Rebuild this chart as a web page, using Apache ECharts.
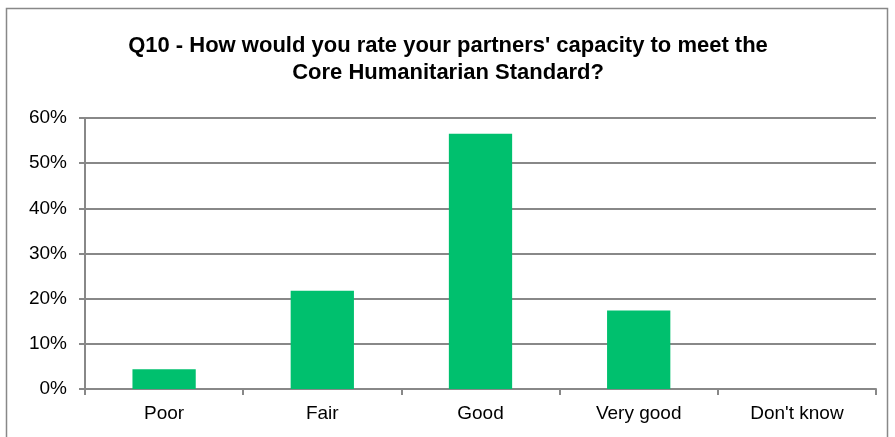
<!DOCTYPE html>
<html><head><meta charset="utf-8">
<script src="https://cdn.jsdelivr.net/npm/echarts@6/dist/echarts.min.js"></script>
<style>html,body{margin:0;padding:0;background:#fff;}#c{width:895px;height:437px;}</style>
</head><body><div id="c"></div>
<script>
const categories = ["Poor", "Fair", "Good", "Very good", "Don't know"];
const values = [4.35, 21.74, 56.52, 17.39, 0];
const titleText = "Q10 - How would you rate your partners' capacity to meet the\nCore Humanitarian Standard?";
const chart = echarts.init(document.getElementById('c'));
chart.setOption({
  animation: false,
  graphic: [
    {type: 'rect', shape: {x: 6.5, y: 8.5, width: 881, height: 440}, style: {fill: 'none', stroke: '#888', lineWidth: 1.5}, silent: true},
    {type: 'text', x: 448, y: 32, style: {text: titleText, align: 'center', verticalAlign: 'top', fontFamily: 'Liberation Sans', fontSize: 22, fontWeight: 'bold', fill: '#000', lineHeight: 27}, silent: true}
  ],
  grid: {left: 85, right: 19, top: 118, bottom: 48, containLabel: false},
  xAxis: {
    type: 'category', data: categories,
    axisLine: {lineStyle: {color: '#888', width: 2}},
    axisTick: {show: true, length: 6, lineStyle: {color: '#888', width: 2}},
    axisLabel: {fontFamily: 'Liberation Sans', fontSize: 19, color: '#000', margin: 15}
  },
  yAxis: {
    type: 'value', min: 0, max: 60, interval: 10,
    axisLine: {show: true, lineStyle: {color: '#888', width: 2}},
    axisTick: {show: true, length: 6, lineStyle: {color: '#888', width: 2}},
    axisLabel: {formatter: '{value}%', fontFamily: 'Liberation Sans', fontSize: 19, color: '#000', margin: 18},
    splitLine: {lineStyle: {color: '#888', width: 2}}
  },
  series: [{type: 'bar', data: values, barWidth: '40%', itemStyle: {color: '#00C06E'}}]
});
</script></body></html>
